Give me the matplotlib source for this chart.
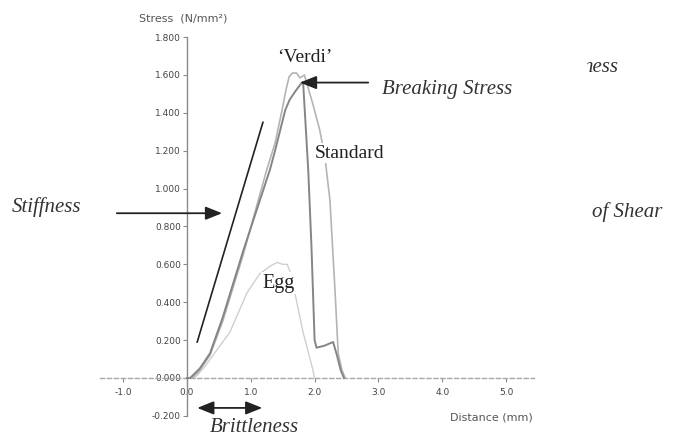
import matplotlib
matplotlib.use("Agg")
import matplotlib.pyplot as plt
from matplotlib.ticker import FormatStrFormatter
from matplotlib.transforms import Bbox, TransformedBbox

# ---- data ----
dist_standard = [0.0, 0.05, 0.2, 0.36, 0.56, 0.88, 1.30, 1.38, 1.54, 1.61, 1.69, 1.80,
                 1.82, 1.90, 1.95, 2.00, 2.03, 2.15, 2.29, 2.35, 2.41, 2.46]
stress_standard = [0.0, 0.0, 0.05, 0.13, 0.32, 0.67, 1.10, 1.20, 1.415, 1.47, 1.51, 1.56,
                   1.56, 1.10, 0.70, 0.20, 0.16, 0.17, 0.19, 0.12, 0.04, 0.0]

dist_verdi = [0.0, 0.08, 0.2, 0.36, 0.56, 0.88, 1.25, 1.38, 1.49, 1.55, 1.60, 1.65, 1.72,
              1.77, 1.84, 1.97, 2.08, 2.16, 2.24, 2.32, 2.37, 2.43, 2.48]
stress_verdi = [0.0, 0.0, 0.04, 0.12, 0.30, 0.65, 1.10, 1.24, 1.415, 1.52, 1.59, 1.61, 1.61,
                1.585, 1.60, 1.45, 1.31, 1.17, 0.94, 0.46, 0.13, 0.04, 0.0]

dist_egg = [0.0, 0.12, 0.28, 0.45, 0.67, 0.94, 1.14, 1.30, 1.41, 1.50, 1.57, 1.63, 1.69,
            1.82, 1.96, 2.0]
stress_egg = [0.0, 0.0, 0.06, 0.14, 0.24, 0.45, 0.55, 0.59, 0.61, 0.60, 0.60, 0.55, 0.45,
              0.24, 0.06, 0.0]

stiffness_x = [0.16, 1.19]
stiffness_y = [0.19, 1.35]

y_ticks = [-0.2, 0.0, 0.2, 0.4, 0.6, 0.8, 1.0, 1.2, 1.4, 1.6, 1.8]
x_ticks = [-1.0, 0.0, 1.0, 2.0, 3.0, 4.0, 5.0]

# ---- figure ----
fig = plt.figure(figsize=(6.77, 4.42), dpi=100)
ax = fig.add_axes([0, 0, 1, 1])
ax.set_xlim(-2.931, 7.680)
ax.set_ylim(-0.338, 1.996)
ax.patch.set_alpha(0)

axis_col = "#8a8a8a"
ax.spines["top"].set_visible(False)
ax.spines["right"].set_visible(False)
ax.spines["left"].set_position(("data", 0))
ax.spines["left"].set_bounds(-0.2, 1.8)
ax.spines["left"].set_color(axis_col)
ax.spines["left"].set_linewidth(1.0)
ax.spines["bottom"].set_position(("data", 0))
ax.spines["bottom"].set_bounds(-1.36, 5.44)
ax.spines["bottom"].set_color("#a8a8a8")
ax.spines["bottom"].set_linestyle((0, (3, 2)))
ax.spines["bottom"].set_linewidth(1.0)

ax.set_yticks(y_ticks)
ax.yaxis.set_major_formatter(FormatStrFormatter("%.3f"))
ax.set_xticks(x_ticks)
ax.xaxis.set_major_formatter(FormatStrFormatter("%.1f"))
ax.tick_params(axis="y", direction="out", length=3, width=0.8, color=axis_col,
               labelcolor="#444444", labelsize=6.5, pad=1.5)
ax.tick_params(axis="x", direction="out", length=3, width=0.8, color=axis_col,
               labelcolor="#444444", labelsize=6.5, pad=4)

# curves
ax.plot(dist_egg, stress_egg, color="#cfcfcf", lw=1.0, zorder=2)
ax.plot(dist_verdi, stress_verdi, color="#b4b4b4", lw=1.2, zorder=3)
ax.plot(dist_standard, stress_standard, color="#858585", lw=1.4, zorder=4)
ax.plot(stiffness_x, stiffness_y, color="#222222", lw=1.2, zorder=4)

serif = "Liberation Serif"

# labels on curves
ax.text(1.85, 1.695, "\u2018Verdi\u2019", family=serif, fontsize=14, color="#222222",
        ha="center", va="center", zorder=6)
ax.text(2.006, 1.188, "Standard", family=serif, fontsize=14, color="#222222",
        ha="left", va="center", zorder=6,
        bbox=dict(facecolor="white", edgecolor="none", pad=1))
ax.text(1.43, 0.50, "Egg", family=serif, fontsize=14.5, color="#222222",
        ha="center", va="center", zorder=6,
        bbox=dict(facecolor="white", edgecolor="none", pad=1))

# annotations
ital = dict(family=serif, style="italic", fontsize=15, color="#333333", va="center")
ax.text(3.06, 1.526, "Breaking Stress", ha="left", **ital)
ax.text(-2.74, 0.903, "Stiffness", ha="left", **ital)
ax.text(0.36, -0.264, "Brittleness", ha="left", **ital)
ax.text(6.35, 0.876, "of Shear", ha="left", **ital)
t = ax.text(6.755, 1.637, "ness", ha="right", **ital)
t.set_clip_on(True)
t.set_clip_box(TransformedBbox(Bbox([[6.27, 1.4], [7.6, 1.9]]), ax.transData))

arrow_kw = dict(arrowstyle="-|>,head_length=1.0,head_width=0.4", color="#222222", lw=1.3,
                shrinkA=0, shrinkB=0)
ax.annotate("", xy=(1.77, 1.56), xytext=(2.84, 1.56), arrowprops=arrow_kw, zorder=7)
ax.annotate("", xy=(0.55, 0.87), xytext=(-1.10, 0.87), arrowprops=arrow_kw, zorder=7)
ax.annotate("", xy=(0.16, -0.158), xytext=(1.18, -0.158),
            arrowprops=dict(arrowstyle="<|-|>,head_length=1.0,head_width=0.4",
                            color="#222222", lw=1.3, shrinkA=0, shrinkB=0), zorder=7)

# axis titles
ax.text(-0.752, 1.90, "Stress  (N/mm\u00b2)", fontsize=8, color="#555555",
        ha="left", va="center")
ax.text(5.42, -0.206, "Distance (mm)", fontsize=8, color="#555555",
        ha="right", va="center")

fig.savefig("out.png", dpi=100, facecolor="white")
